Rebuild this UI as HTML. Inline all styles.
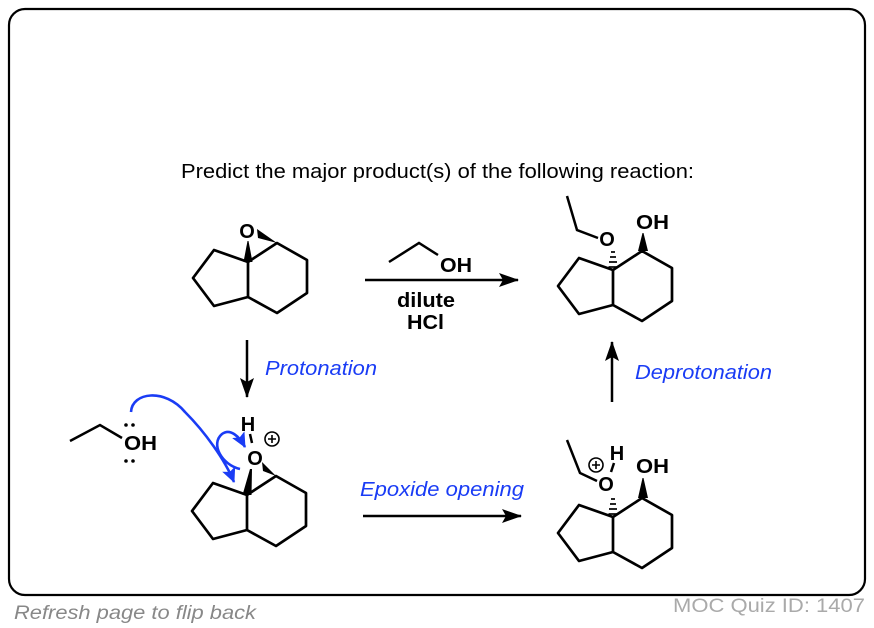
<!DOCTYPE html>
<html><head><meta charset="utf-8"><style>
html,body{margin:0;padding:0;background:#fff;}
svg{display:block;font-family:"Liberation Sans",Arial,sans-serif;}
</style></head><body>
<svg width="874" height="628" viewBox="0 0 874 628" xmlns="http://www.w3.org/2000/svg">
<defs>
<marker id="ah" markerWidth="20" markerHeight="14" refX="19" refY="7" orient="auto" markerUnits="userSpaceOnUse">
<path d="M0,0 L20,7 L0,14 L4,7 Z" fill="#000"/></marker>
<marker id="bh" markerWidth="16" markerHeight="14" refX="14" refY="7" orient="auto" markerUnits="userSpaceOnUse">
<path d="M0,0 L15,7 L0,14 L3,7 Z" fill="#1a3cf5"/></marker>
<g id="sk" fill="none" stroke="#000" stroke-width="2.7" stroke-linejoin="round">
<path d="M0,0 L29,-19 L59,-2 L59,31 L29,51 L0,35 Z"/>
<path d="M0,0 L-34,-12 L-55,16 L-34,44 L0,35"/>
</g>
</defs>
<rect x="9" y="9" width="856" height="586" rx="16" fill="none" stroke="#000" stroke-width="2.2"/>
<text x="181" y="178" font-size="20" textLength="513" lengthAdjust="spacingAndGlyphs">Predict the major product(s) of the following reaction:</text>

<!-- structure 1 -->
<use href="#sk" x="248" y="262"/>
<text x="247" y="238" font-size="20" font-weight="bold" text-anchor="middle">O</text>
<path d="M243.5,262 L252.5,262 L248.5,241 L247.5,241 Z" fill="#000"/>
<path d="M257,229 L258,238 L277,243 Z" fill="#000"/>

<!-- reagent arrow -->
<line x1="365" y1="280" x2="518" y2="280" stroke="#000" stroke-width="2.5" marker-end="url(#ah)"/>
<polyline points="389,262 419,243 438,255" fill="none" stroke="#000" stroke-width="2.5"/>
<text x="440" y="272" font-size="20" font-weight="bold" textLength="32" lengthAdjust="spacingAndGlyphs">OH</text>
<text x="397" y="307" font-size="20" font-weight="bold" textLength="58" lengthAdjust="spacingAndGlyphs">dilute</text>
<text x="407" y="329" font-size="20" font-weight="bold" textLength="37" lengthAdjust="spacingAndGlyphs">HCl</text>

<!-- product top right -->
<use href="#sk" x="613" y="270"/>
<text x="607" y="246" font-size="20" font-weight="bold" text-anchor="middle">O</text>
<g stroke="#000" stroke-width="1.7">
<line x1="608.5" y1="267" x2="617.5" y2="267"/><line x1="609" y1="262" x2="617" y2="262"/><line x1="610" y1="257" x2="616" y2="257"/><line x1="611" y1="252" x2="615" y2="252"/>
</g>
<polyline points="598,238 577,230 567,196" fill="none" stroke="#000" stroke-width="2.5"/>
<text x="636" y="229" font-size="20" font-weight="bold" textLength="33" lengthAdjust="spacingAndGlyphs">OH</text>
<path d="M638,251 L648,251 L643.5,233 L642.5,233 Z" fill="#000"/>

<!-- down arrow + label -->
<line x1="247" y1="340" x2="247" y2="397" stroke="#000" stroke-width="2.5" marker-end="url(#ah)"/>
<text x="265" y="375" font-size="20" font-style="italic" fill="#1a3cf5" textLength="112" lengthAdjust="spacingAndGlyphs">Protonation</text>

<!-- up arrow + label -->
<line x1="612" y1="402" x2="612" y2="342" stroke="#000" stroke-width="2.5" marker-end="url(#ah)"/>
<text x="635" y="379" font-size="20" font-style="italic" fill="#1a3cf5" textLength="137" lengthAdjust="spacingAndGlyphs">Deprotonation</text>

<!-- bottom arrow -->
<line x1="363" y1="516" x2="521" y2="516" stroke="#000" stroke-width="2.5" marker-end="url(#ah)"/>
<text x="360" y="496" font-size="20" font-style="italic" fill="#1a3cf5" textLength="164" lengthAdjust="spacingAndGlyphs">Epoxide opening</text>

<!-- structure 3 -->
<use href="#sk" x="247" y="495"/>
<text x="248" y="431" font-size="20" font-weight="bold" text-anchor="middle">H</text>
<line x1="250" y1="434" x2="252" y2="443" stroke="#000" stroke-width="2.5"/>
<text x="255" y="465" font-size="20" font-weight="bold" text-anchor="middle">O</text>
<circle cx="272" cy="439" r="7" fill="none" stroke="#000" stroke-width="1.6"/>
<path d="M268,439 H276 M272,435 V443" stroke="#000" stroke-width="1.6"/>
<path d="M242.5,495 L251.5,495 L252,469 L250,469 Z" fill="#000"/>
<path d="M262,462 L263,471 L276,476 Z" fill="#000"/>
<polyline points="70,441 100,425 122,438" fill="none" stroke="#000" stroke-width="2.5"/>
<text x="124" y="450" font-size="20" font-weight="bold" textLength="33" lengthAdjust="spacingAndGlyphs">OH</text>
<g fill="#000"><circle cx="126" cy="425" r="1.8"/><circle cx="133" cy="425" r="1.8"/><circle cx="126" cy="461" r="1.8"/><circle cx="133" cy="461" r="1.8"/></g>
<path d="M131,412 C132,392 165,388 185,412 C205,432 225,460 234,482" fill="none" stroke="#1a3cf5" stroke-width="2.6" marker-end="url(#bh)"/>
<path d="M240,469 C222,465 210,444 222,434 C230,428 239,436 245,447" fill="none" stroke="#1a3cf5" stroke-width="2.6" marker-end="url(#bh)"/>

<!-- structure 4 -->
<use href="#sk" x="613" y="517"/>
<text x="617" y="460" font-size="20" font-weight="bold" text-anchor="middle">H</text>
<line x1="614" y1="463" x2="611" y2="472" stroke="#000" stroke-width="2.5"/>
<text x="606" y="491" font-size="20" font-weight="bold" text-anchor="middle">O</text>
<circle cx="596" cy="465" r="7" fill="none" stroke="#000" stroke-width="1.6"/>
<path d="M592,465 H600 M596,461 V469" stroke="#000" stroke-width="1.6"/>
<g stroke="#000" stroke-width="1.7">
<line x1="608.5" y1="514" x2="617.5" y2="514"/><line x1="609" y1="509" x2="617" y2="509"/><line x1="610" y1="504" x2="616" y2="504"/><line x1="611" y1="499" x2="615" y2="499"/>
</g>
<polyline points="597,481 580,473 567,440" fill="none" stroke="#000" stroke-width="2.5"/>
<text x="636" y="473" font-size="20" font-weight="bold" textLength="33" lengthAdjust="spacingAndGlyphs">OH</text>
<path d="M638,498 L648,498 L643.5,478 L642.5,478 Z" fill="#000"/>

<!-- footer -->
<text x="14" y="619" font-size="19" font-style="italic" fill="#888" textLength="242" lengthAdjust="spacingAndGlyphs">Refresh page to flip back</text>
<text x="673" y="612" font-size="19" fill="#aaa" textLength="192" lengthAdjust="spacingAndGlyphs">MOC Quiz ID: 1407</text>
</svg>
</body></html>
